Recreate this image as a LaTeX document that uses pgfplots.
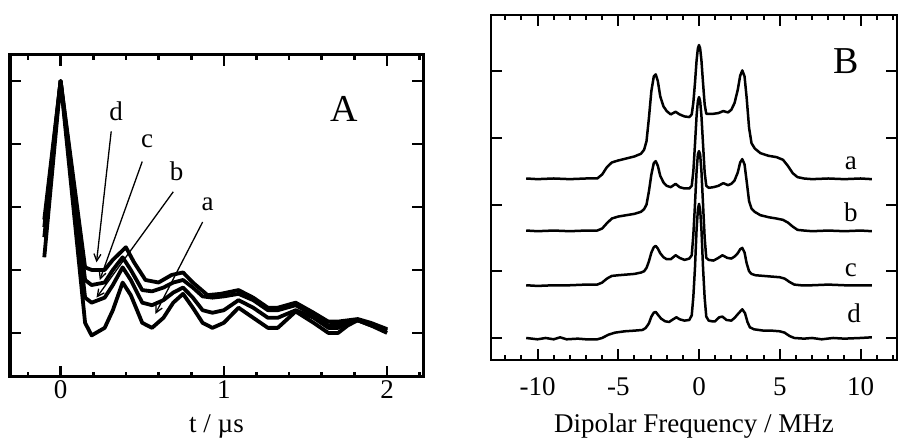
\documentclass[border=0pt]{standalone}
\usepackage{fontspec}
\setmainfont{Liberation Serif}
\usepackage{pgfplots}
\pgfplotsset{compat=1.18}
\usetikzlibrary{arrows.meta}
\tikzset{cA/.style={black, line width=3.8bp, line join=round, mark=none},
         cB/.style={black, line width=2.5bp, line join=round, mark=none},
         arr/.style={-{Straight Barb[length=7bp,width=7bp]}, line width=1.3bp},
         lab/.style={font=\fontsize{27bp}{30bp}\selectfont}}
\begin{document}
\begin{tikzpicture}
\path (0,0) rectangle (899bp,439bp);
% ---------------- Panel A ----------------
\begin{axis}[at={(10bp,62bp)}, anchor=south west, scale only axis,
  width=413bp, height=322bp,
  xmin=-0.31, xmax=2.22, ymin=-0.175, ymax=1.103,
  xtick={0,1,2}, xticklabels={0,1,2},
  minor xtick={-0.2,0.2,0.4,0.6,0.8,1.2,1.4,1.6,1.8,2.2},
  ytick={0,0.25,0.5,0.75,1}, yticklabels={},
  tick align=inside, major tick length=11bp, minor tick length=5bp,
  axis line style={line width=3bp},
  every tick/.style={line width=2.6bp, black},
  xlabel={t / µs},
  xlabel style={at={(axis description cs:0.5,-0.155)}, anchor=center, font=\fontsize{27bp}{30bp}\selectfont},
  xticklabel style={font=\fontsize{27bp}{30bp}\selectfont},
]
\addplot[cA] coordinates {(-0.1,0.30) (0,1.0) (0.15,0.04) (0.19,-0.01) (0.27,0.02) (0.32,0.09) (0.38,0.20) (0.43,0.15) (0.50,0.04) (0.56,0.02) (0.63,0.06) (0.69,0.12) (0.75,0.155) (0.81,0.10) (0.87,0.04) (0.93,0.02) (1.0,0.04) (1.09,0.10) (1.18,0.06) (1.27,0.02) (1.33,0.02) (1.44,0.085) (1.55,0.04) (1.64,0.0) (1.70,0.0) (1.76,0.03) (1.82,0.05) (1.90,0.03) (2.0,0.0)};
\addplot[cA] coordinates {(-0.1,0.38) (0,1.0) (0.15,0.14) (0.19,0.12) (0.27,0.14) (0.32,0.19) (0.38,0.26) (0.43,0.21) (0.50,0.12) (0.56,0.11) (0.63,0.13) (0.69,0.16) (0.75,0.18) (0.81,0.14) (0.87,0.09) (0.93,0.08) (1.0,0.09) (1.09,0.13) (1.18,0.10) (1.27,0.06) (1.33,0.06) (1.44,0.09) (1.55,0.06) (1.64,0.02) (1.70,0.02) (1.76,0.04) (1.82,0.05) (1.90,0.03) (2.0,0.01)};
\addplot[cA] coordinates {(-0.1,0.42) (0,1.0) (0.15,0.21) (0.19,0.19) (0.27,0.20) (0.32,0.25) (0.38,0.30) (0.43,0.25) (0.50,0.17) (0.56,0.165) (0.63,0.18) (0.69,0.20) (0.75,0.21) (0.81,0.18) (0.87,0.145) (0.93,0.14) (1.0,0.145) (1.09,0.155) (1.18,0.13) (1.27,0.09) (1.33,0.09) (1.44,0.11) (1.55,0.07) (1.64,0.03) (1.70,0.035) (1.76,0.045) (1.82,0.05) (1.90,0.035) (2.0,0.01)};
\addplot[cA] coordinates {(-0.1,0.45) (0,1.0) (0.15,0.26) (0.19,0.25) (0.27,0.25) (0.32,0.29) (0.40,0.34) (0.45,0.28) (0.52,0.21) (0.60,0.20) (0.68,0.23) (0.75,0.24) (0.81,0.20) (0.90,0.15) (0.98,0.155) (1.09,0.17) (1.18,0.14) (1.27,0.10) (1.33,0.10) (1.44,0.12) (1.55,0.08) (1.64,0.045) (1.70,0.045) (1.76,0.05) (1.82,0.055) (1.90,0.04) (2.0,0.015)};
\draw[arr] (axis cs:0.31,0.80) -- (axis cs:0.22,0.28);
\draw[arr] (axis cs:0.50,0.68) -- (axis cs:0.24,0.21);
\draw[arr] (axis cs:0.69,0.56) -- (axis cs:0.22,0.14);
\draw[arr] (axis cs:0.87,0.44) -- (axis cs:0.58,0.075);
\node[lab] at (axis cs:0.34,0.88) {d};
\node[lab] at (axis cs:0.53,0.76) {c};
\node[lab] at (axis cs:0.71,0.64) {b};
\node[lab] at (axis cs:0.90,0.51) {a};
\node[font=\fontsize{38bp}{42bp}\selectfont] at (axis cs:1.74,0.89) {A};
\end{axis}
% ---------------- Panel B ----------------
\begin{axis}[at={(491bp,79bp)}, anchor=south west, scale only axis,
  width=406bp, height=345bp,
  xmin=-12.88, xmax=12.26, ymin=-0.33, ymax=4.84,
  xtick={-10,-5,0,5,10}, xticklabels={-10,-5,0,5,10},
  minor xtick={-12,-11,-9,-8,-7,-6,-4,-3,-2,-1,1,2,3,4,6,7,8,9,11,12},
  ytick={0,1,2,3,4}, yticklabels={},
  tick align=inside, major tick length=11bp, minor tick length=5bp,
  axis line style={line width=2.2bp},
  every tick/.style={line width=2bp, black},
  xlabel={Dipolar Frequency / MHz},
  xlabel style={at={(axis description cs:0.5,-0.19)}, anchor=center, font=\fontsize{27bp}{30bp}\selectfont},
  xticklabel style={font=\fontsize{27bp}{30bp}\selectfont, yshift=-14bp},
]
\addplot[cB] coordinates {(-10.7,2.39) (-10,2.38) (-9,2.39) (-8,2.38) (-7,2.39) (-6.3,2.39) (-6.0,2.45) (-5.7,2.56) (-5.4,2.63) (-5.0,2.66) (-4.5,2.69) (-4.0,2.72) (-3.6,2.76) (-3.4,2.82) (-3.25,2.95) (-3.1,3.3) (-2.95,3.7) (-2.8,3.92) (-2.68,3.95) (-2.55,3.85) (-2.4,3.62) (-2.2,3.47) (-2.0,3.40) (-1.75,3.35) (-1.45,3.39) (-1.2,3.35) (-0.9,3.32) (-0.6,3.31) (-0.45,3.35) (-0.35,3.53) (-0.25,3.82) (-0.15,4.16) (-0.07,4.34) (0,4.39) (0.07,4.34) (0.15,4.16) (0.25,3.82) (0.35,3.50) (0.45,3.36) (0.6,3.36) (0.9,3.36) (1.2,3.37) (1.5,3.40) (1.8,3.38) (2.0,3.42) (2.2,3.52) (2.4,3.72) (2.55,3.93) (2.68,4.01) (2.82,3.92) (2.95,3.6) (3.1,3.15) (3.25,2.92) (3.45,2.84) (3.8,2.77) (4.3,2.73) (4.8,2.71) (5.2,2.67) (5.5,2.58) (5.8,2.47) (6.1,2.41) (6.5,2.39) (7,2.38) (8,2.39) (9,2.38) (10,2.39) (10.7,2.38)};
\addplot[cB] coordinates {(-10.7,1.61) (-10,1.60) (-9,1.61) (-8,1.60) (-7,1.61) (-6.3,1.61) (-6.0,1.64) (-5.7,1.72) (-5.4,1.79) (-5.0,1.82) (-4.5,1.84) (-4.0,1.86) (-3.6,1.89) (-3.4,1.93) (-3.25,2.0) (-3.1,2.2) (-2.95,2.45) (-2.8,2.62) (-2.68,2.65) (-2.55,2.58) (-2.4,2.43) (-2.2,2.33) (-2.0,2.28) (-1.75,2.26) (-1.45,2.31) (-1.2,2.26) (-0.9,2.24) (-0.6,2.24) (-0.45,2.28) (-0.35,2.50) (-0.25,2.90) (-0.15,3.33) (-0.07,3.55) (0,3.61) (0.07,3.55) (0.15,3.33) (0.25,2.90) (0.35,2.48) (0.45,2.28) (0.6,2.25) (0.9,2.26) (1.2,2.28) (1.5,2.32) (1.8,2.29) (2.0,2.31) (2.2,2.36) (2.4,2.48) (2.55,2.63) (2.68,2.68) (2.82,2.6) (2.95,2.35) (3.1,2.05) (3.25,1.94) (3.45,1.89) (3.8,1.84) (4.3,1.81) (4.8,1.79) (5.2,1.77) (5.5,1.73) (5.8,1.67) (6.1,1.62) (6.5,1.61) (7,1.60) (8,1.61) (9,1.60) (10,1.61) (10.7,1.60)};
\addplot[cB] coordinates {(-10.7,0.79) (-10,0.78) (-9,0.79) (-8,0.79) (-7,0.80) (-6.3,0.80) (-6.0,0.83) (-5.7,0.89) (-5.4,0.93) (-5.0,0.94) (-4.5,0.95) (-4.0,0.96) (-3.6,0.98) (-3.4,1.0) (-3.25,1.05) (-3.1,1.15) (-2.95,1.28) (-2.8,1.36) (-2.68,1.38) (-2.55,1.34) (-2.4,1.27) (-2.2,1.21) (-2.0,1.18) (-1.75,1.18) (-1.45,1.24) (-1.2,1.20) (-0.9,1.17) (-0.6,1.19) (-0.45,1.24) (-0.35,1.55) (-0.25,2.0) (-0.15,2.5) (-0.07,2.75) (0,2.80) (0.07,2.75) (0.15,2.5) (0.25,2.0) (0.35,1.5) (0.45,1.2) (0.6,1.17) (0.9,1.16) (1.2,1.2) (1.45,1.24) (1.75,1.2) (2.0,1.19) (2.2,1.22) (2.4,1.27) (2.55,1.33) (2.68,1.35) (2.82,1.28) (2.95,1.12) (3.1,1.0) (3.25,0.96) (3.5,0.94) (4.0,0.93) (4.5,0.92) (5.0,0.91) (5.3,0.89) (5.6,0.84) (5.9,0.80) (6.3,0.79) (7,0.79) (8,0.80) (9,0.79) (10,0.79) (10.7,0.79)};
\addplot[cB] coordinates {(-10.7,0.0) (-10,-0.02) (-9.5,0.0) (-9,-0.02) (-8.6,0.01) (-8.2,-0.02) (-7.5,-0.01) (-7,-0.02) (-6.3,-0.02) (-6.0,0.0) (-5.6,0.05) (-5.2,0.08) (-4.6,0.10) (-4.0,0.11) (-3.5,0.12) (-3.3,0.15) (-3.1,0.22) (-2.95,0.32) (-2.8,0.38) (-2.68,0.39) (-2.55,0.35) (-2.35,0.29) (-2.1,0.25) (-1.85,0.24) (-1.6,0.28) (-1.4,0.31) (-1.2,0.28) (-0.9,0.26) (-0.6,0.27) (-0.45,0.34) (-0.35,0.62) (-0.25,1.05) (-0.15,1.63) (-0.07,1.92) (0,2.01) (0.07,1.92) (0.15,1.63) (0.25,1.05) (0.35,0.60) (0.45,0.32) (0.6,0.26) (0.8,0.25) (1.0,0.25) (1.25,0.31) (1.45,0.32) (1.7,0.27) (2.0,0.26) (2.2,0.3) (2.45,0.37) (2.68,0.43) (2.85,0.37) (3.0,0.24) (3.15,0.16) (3.4,0.13) (4.0,0.11) (4.5,0.11) (5.0,0.10) (5.3,0.08) (5.6,0.03) (5.9,0.0) (6.5,-0.01) (7,0.0) (7.6,-0.02) (8.3,0.0) (9,-0.01) (10,0.0) (10.7,0.01)};
\node[lab] at (axis cs:9.4,2.62) {a};
\node[lab] at (axis cs:9.4,1.88) {b};
\node[lab] at (axis cs:9.4,1.02) {c};
\node[lab] at (axis cs:9.6,0.37) {d};
\node[font=\fontsize{38bp}{42bp}\selectfont] at (axis cs:9.1,4.15) {B};
\end{axis}
\end{tikzpicture}
\end{document}
